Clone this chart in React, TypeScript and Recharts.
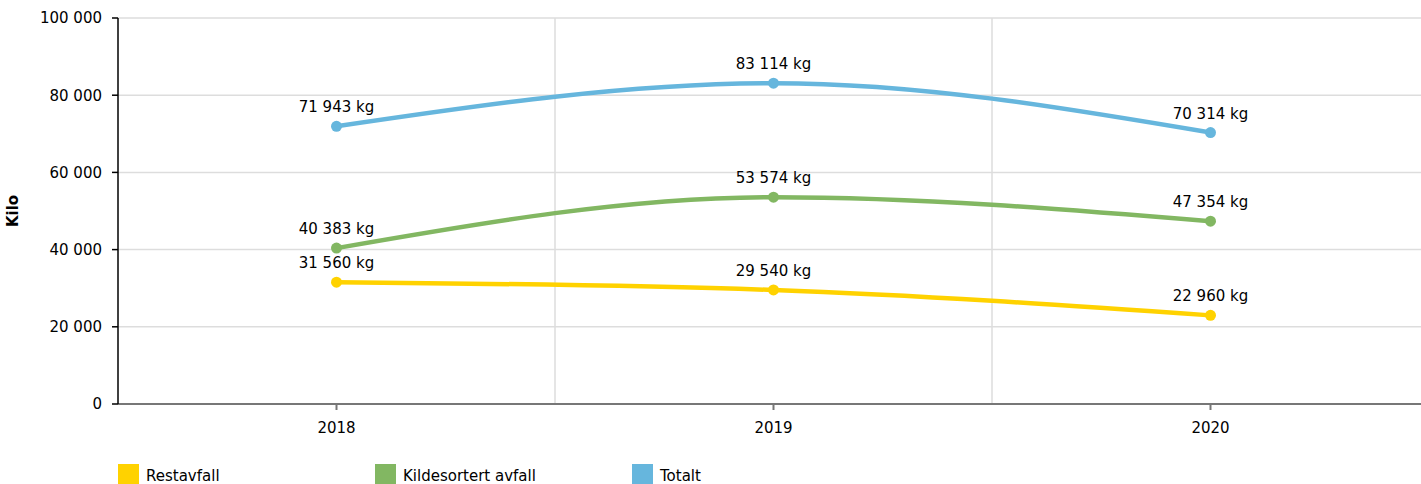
import React from "react";
import { LineChart, Line, XAxis, YAxis, CartesianGrid, ReferenceLine, LabelList } from "recharts";

const years = ["2018", "2019", "2020"];
const restavfall = [31560, 29540, 22960];
const kildesortert = [40383, 53574, 47354];
const totalt = [71943, 83114, 70314];
const yTicks = [0, 20000, 40000, 60000, 80000, 100000];

const series = [
  { key: "rest", name: "Restavfall", color: "#FFD200", values: restavfall },
  { key: "kilde", name: "Kildesortert avfall", color: "#82B762", values: kildesortert },
  { key: "total", name: "Totalt", color: "#66B6DD", values: totalt },
];

const data = years.map((year, i) => ({
  idx: i,
  year,
  rest: restavfall[i],
  kilde: kildesortert[i],
  total: totalt[i],
}));

// 12345 -> "12 345"
const fmt = (v: number) => String(v).replace(/\B(?=(\d{3})+(?!\d))/g, " ");

const font = "DejaVu Sans";

const App: React.FC = () => {
  return (
    <div style={{ position: "absolute", left: 0, top: 0, width: 1421, height: 484, overflow: "hidden", background: "#fff" }}>
      <LineChart
        width={1429}
        height={484}
        data={data}
        margin={{ top: 18, right: 0, left: 0, bottom: 50 }}
      >
        <CartesianGrid vertical={false} stroke="#dddddd" strokeWidth={1.5} />
        <ReferenceLine x={0.5} stroke="#dddddd" strokeWidth={1.5} />
        <ReferenceLine x={1.5} stroke="#dddddd" strokeWidth={1.5} />
        <XAxis
          dataKey="idx"
          type="number"
          domain={[-0.5, 2.5]}
          ticks={[0, 1, 2]}
          tickFormatter={(v: number) => years[v]}
          height={30}
          stroke="#777777"
          strokeWidth={2}
          tickSize={6}
          tickMargin={12}
          tick={{ fill: "#000", fontSize: 15, fontFamily: font }}
        />
        <YAxis
          domain={[0, 100000]}
          ticks={yTicks}
          width={118}
          stroke="#000"
          strokeWidth={1.5}
          tickSize={6}
          tickMargin={10}
          tickFormatter={fmt}
          tick={{ fill: "#000", fontSize: 15, fontFamily: font }}
          label={{
            value: "Kilo",
            angle: -90,
            position: "insideLeft",
            dx: 8,
            style: { fill: "#000", fontSize: 15, fontWeight: "bold", fontFamily: font, textAnchor: "middle" },
          }}
        />
        {series.map((s) => (
          <Line
            key={s.key}
            type="monotone"
            dataKey={s.key}
            name={s.name}
            stroke={s.color}
            strokeWidth={4.5}
            dot={{ r: 5.5, fill: s.color, stroke: "none" }}
            isAnimationActive={false}
          >
            <LabelList
              dataKey={s.key}
              position="top"
              offset={14}
              formatter={(v: number) => `${fmt(v)} kg`}
              style={{ fill: "#000", fontSize: 15, fontFamily: font }}
            />
          </Line>
        ))}
      </LineChart>
      <div style={{ position: "absolute", left: 118, top: 464, display: "flex", fontFamily: font, fontSize: 15 }}>
        {series.map((s) => (
          <div key={s.key} style={{ width: 257, display: "flex", alignItems: "flex-start" }}>
            <span style={{ display: "inline-block", width: 21, height: 21, background: s.color, marginRight: 7 }} />
            <span style={{ lineHeight: "24px" }}>{s.name}</span>
          </div>
        ))}
      </div>
    </div>
  );
};

export default App;
